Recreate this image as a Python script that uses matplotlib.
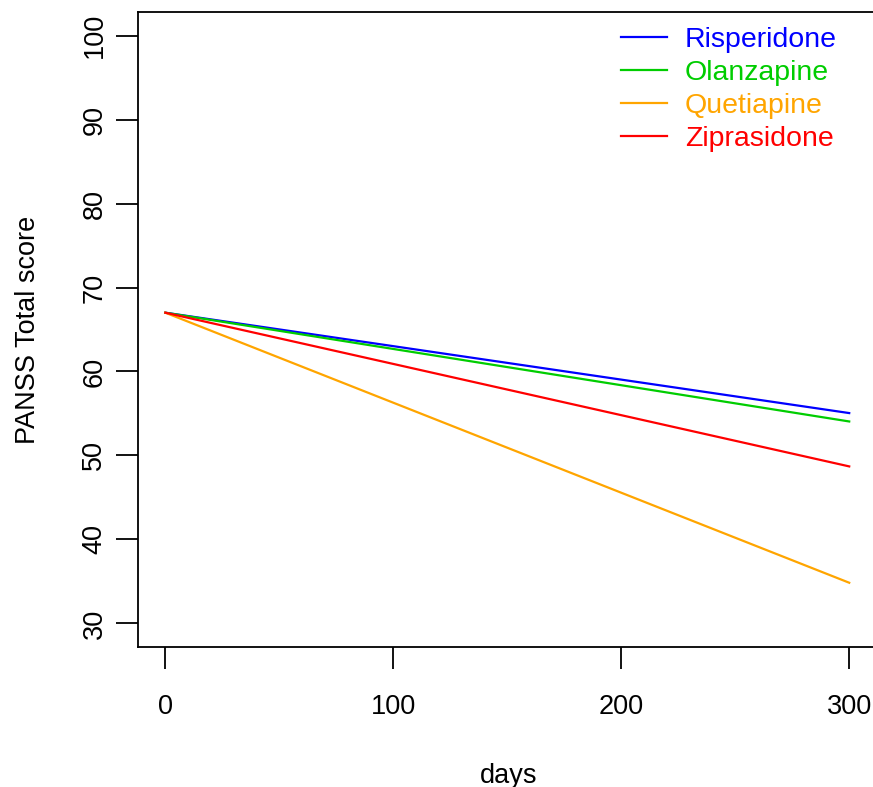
import matplotlib
matplotlib.use('Agg')
import matplotlib.pyplot as plt
import numpy as np

plt.rcParams['font.family'] = ['Liberation Sans', 'DejaVu Sans']

days = [0, 300]
drugs = ['Risperidone', 'Olanzapine', 'Quetiapine', 'Ziprasidone']
colors = ['#0000FF', '#00CD00', '#FFA500', '#FF0000']
risperidone = [67.0, 55.05]
olanzapine = [67.0, 54.05]
quetiapine = [67.0, 34.85]
ziprasidone = [67.0, 48.7]
xticks = [0, 100, 200, 300]
yticks = [30, 40, 50, 60, 70, 80, 90, 100]

series = [risperidone, olanzapine, quetiapine, ziprasidone]

fig = plt.figure(figsize=(8.73, 7.87), dpi=100)
W, H = 873, 787
ax = fig.add_axes([138 / W, 140 / H, (880 - 138) / W, (775 - 140) / H])

for name, col, vals in zip(drugs, colors, series):
    ax.plot(days, vals, color=col, lw=1.6, label=name)

# R-style 4% padding around the data range
ax.set_xlim(-12, 313.5)
ax.set_ylim(27.2, 102.8)
ax.set_xticks(xticks)
ax.set_yticks(yticks)
ax.tick_params(axis='both', length=16, width=1.3, labelsize=19.5, direction='out')
ax.tick_params(axis='x', pad=17.5)
ax.tick_params(axis='y', pad=6)
for lab in ax.get_yticklabels():
    lab.set_rotation(90)
    lab.set_va('center')
for sp in ax.spines.values():
    sp.set_linewidth(1.3)
# right edge of the box falls outside the cropped image
ax.spines['right'].set_visible(False)

ax.set_xlabel('days', fontsize=19.5, labelpad=31)
ax.set_ylabel('PANSS Total score', fontsize=19.5, labelpad=29)

leg = ax.legend(loc='upper left', bbox_to_anchor=(621 / W, 1 - 27 / H),
                bbox_transform=fig.transFigure, frameon=False, fontsize=20.5,
                handlelength=1.6, handletextpad=0.65, labelspacing=0.25,
                borderaxespad=0, borderpad=0, labelcolor='linecolor')

fig.savefig('out.png', dpi=100)
